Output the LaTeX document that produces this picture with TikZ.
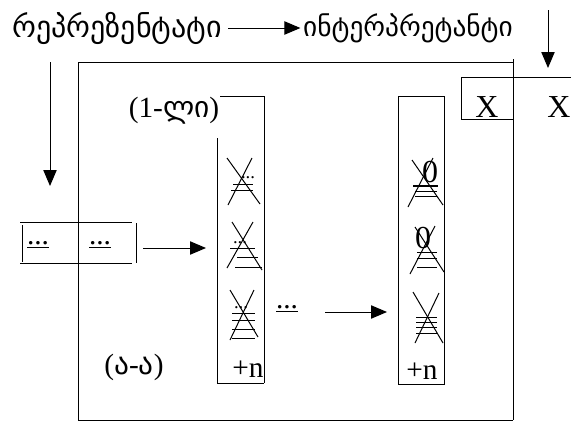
\documentclass[tikz,border=0pt]{standalone}
\usepackage{fontspec}
\setmainfont{Liberation Serif}
\newfontfamily\geo{DejaVu Sans}
\usetikzlibrary{arrows.meta}

\tikzset{every picture/.style={line width=0.75pt}}
\tikzset{arr/.style={-{Triangle[length=12pt,width=10pt]}}}
\tikzset{head/.style={inner sep=0.75pt,font=\fontsize{22.5}{27}\selectfont\geo}}
\tikzset{lbl/.style={inner sep=0.75pt,font=\fontsize{22}{26}\selectfont}}
\tikzset{big/.style={inner sep=0.75pt,font=\fontsize{24}{28}\selectfont}}
\tikzset{dts/.style={inner sep=0.75pt,font=\fontsize{14}{16}\selectfont}}

\begin{document}
\begin{tikzpicture}[x=0.75pt,y=0.75pt,yscale=-1,xscale=1]
\useasboundingbox (0,0) rectangle (571,422);

% Text Node
\draw (117,28) node [head] (repr) {რეპრეზენტატი};
% Text Node
\draw (408,28) node [head,font=\fontsize{20.5}{25}\selectfont\geo] (interp) {ინტერპრეტანტი};
%Straight Lines
\draw [arr] (repr.east) ++(5,0) -- ([xshift=-1pt]interp.west) ;

%Straight Lines
\coordinate (ltop) at (50,62);
\coordinate (ltip) at (50,186);
\draw [arr] (ltop) -- (ltip) ;
%Straight Lines
\coordinate (rtop) at (548,10);
\coordinate (rtip) at (548,68);
\draw [arr] (rtop) -- (rtip) ;

%Shape: Big frame
\draw (78,62) -- (513,62) ;
\draw (78,62) -- (78,420) -- (513,420) ;
\draw (513,59) -- (513,420) ;

%Shape: X box
\draw (461,77) -- (571,77) ;
\draw (461,77) -- (461,119) -- (513,119) ;
% Text Node
\draw (487,107) node [big] (xa) {X};
% Text Node
\draw (559,107) node [big] (xb) {X};

%Shape: dots box
\draw (20,222) -- (132,222) ;
\draw (22,225) -- (22,262) ;
\draw (20,263) -- (132,263) ;
\draw (136,223) -- (136,263) ;
% Text Node
\draw (38,245) node [lbl] (da) {\underline{...}};
% Text Node
\draw (100,245) node [lbl] (db) {\underline{...}};
%Straight Lines
\coordinate (boxout) at (143,248);
\coordinate (colin) at (206,248);
\draw [arr] (boxout) -- (colin) ;

%Shape: first column
\draw (220,96) -- (264,96) -- (264,383) ;
\draw (217,138) -- (217,383) -- (264,383) ;
% Text Node
\draw (174,111) node [lbl] (first) {(1-{\geo ლი})};
% Text Node
\draw (248,369) node [lbl] (na) {+n};

%first column marks
\draw (227,158) -- (260,204) ;
\draw (252,158) -- (228,205) ;
\draw (233,184) -- (253,184) ;
\draw (231,190) -- (253,190) ;
\draw (248,178) node [dts] (ma) {...};
\draw (232,222) -- (262,270) ;
\draw (253,222) -- (227,268) ;
\draw (230,248) -- (255,248) ;
\draw (237,257) -- (258,257) ;
\draw (235,267) -- (262,267) ;
\draw (240,243) node [dts] (mb) {...};
\draw (230,290) -- (258,337) ;
\draw (254,290) -- (230,340) ;
\draw (232,313) -- (255,313) ;
\draw (232,320) -- (255,320) ;
\draw (232,329) -- (255,329) ;
\draw (232,338) -- (255,338) ;
\draw (241,308) node [dts] (mc) {...};

% Text Node
\draw (287,309) node [lbl] (dc) {\underline{...}};
%Straight Lines
\coordinate (midout) at (325,312);
\coordinate (colbin) at (387,312);
\draw [arr] (midout) -- (colbin) ;

%Shape: second column
\draw (398,96) rectangle (444,384) ;
% Text Node
\draw (422,371) node [lbl] (nb) {+n};

%second column marks
\draw (412,160) -- (443,205) ;
\draw (433,158) -- (408,207) ;
\draw (430,172) node [big] (za) {0};
\draw [line width=1.5pt] (413,186) -- (438,186) ;
\draw (415,191) -- (437,191) ;
\draw (415,196) -- (437,196) ;
\draw (415,227) -- (444,272) ;
\draw (435,226) -- (410,274) ;
\draw (423,238) node [big] (zb) {0};
\draw (417,252) -- (437,252) ;
\draw (417,258) -- (437,258) ;
\draw (417,267) -- (437,267) ;
\draw (413,292) -- (443,343) ;
\draw (439,293) -- (415,343) ;
\draw (416,317) -- (437,317) ;
\draw (416,322) -- (437,322) ;
\draw (416,327) -- (437,327) ;
\draw (416,333) -- (437,333) ;

% Text Node
\draw (134,367) node [lbl] (aa) {({\geo ა}-{\geo ა})};

\end{tikzpicture}
\end{document}
